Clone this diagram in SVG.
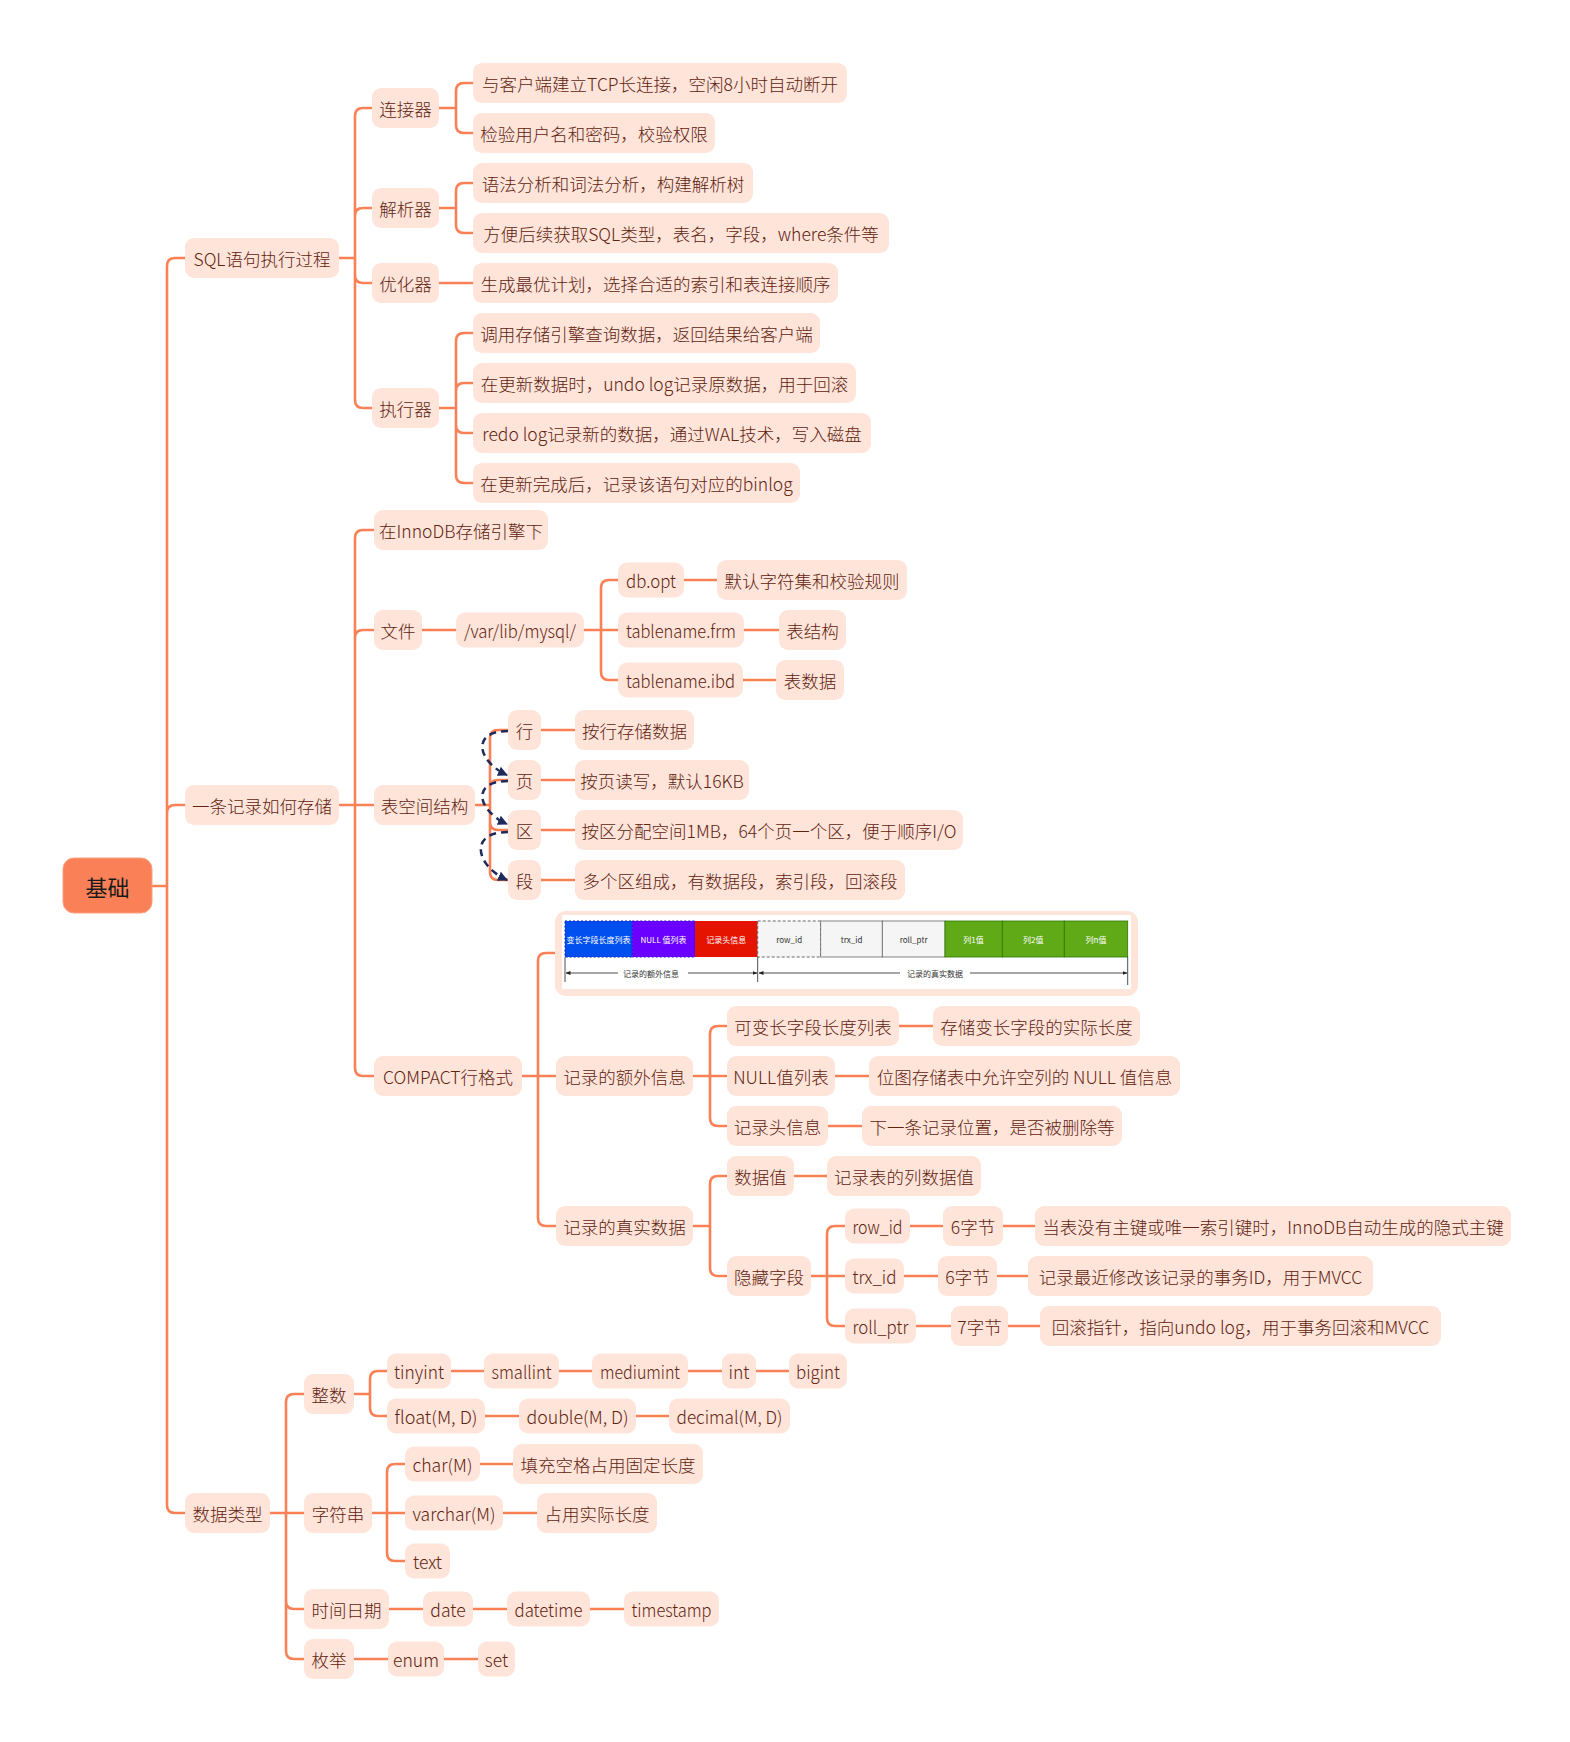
<svg xmlns="http://www.w3.org/2000/svg" width="1570" height="1742" viewBox="0 0 1570 1742">
<style>
.n rect{fill:#FFE4DA;}
.n text{font-family:"Noto Sans CJK SC","Noto Sans",sans-serif;font-size:17.5px;font-weight:300;fill:#60230F;text-anchor:middle;dominant-baseline:central;}
.root rect{fill:#FA8157;stroke:#FBA07F;stroke-width:1;}
.root text{font-family:"Noto Sans CJK SC",sans-serif;font-size:22px;fill:#1a1a1a;text-anchor:middle;dominant-baseline:central;}
.c path{fill:none;stroke:#FA8155;stroke-width:2.6;stroke-linecap:round;stroke-linejoin:round;}
.d path{fill:none;stroke:#1E2A5A;stroke-width:2.5;stroke-dasharray:7 5;}
.img text{font-family:"Noto Sans CJK SC",sans-serif;font-size:8px;text-anchor:middle;dominant-baseline:central;}
.w{fill:#fff;}
.k{fill:#333;}
.ln{stroke:#222;stroke-width:0.8;fill:none;}
</style>
<defs>
<marker id="nav" viewBox="0 0 10 10" refX="9" refY="5" markerWidth="10" markerHeight="10" markerUnits="userSpaceOnUse" orient="auto"><path d="M0,0 L10,5 L0,10 z" fill="#1E2A5A"/></marker>
<marker id="sa" viewBox="0 0 10 10" refX="9" refY="5" markerWidth="5" markerHeight="5" markerUnits="userSpaceOnUse" orient="auto-start-reverse"><path d="M0,1 L10,5 L0,9 z" fill="#222"/></marker>
</defs>
<rect width="1570" height="1742" fill="#fff"/>
<g id="connectors" class="c">
<path d="M152 886 H167 M167 886 V266 Q167 258 175 258 H185 M167 886 V813 Q167 805 175 805 H185 M167 886 V1505 Q167 1513 175 1513 H185"/>
<path d="M339 258 H355 M355 258 V116 Q355 108 363 108 H372 M355 258 V216 Q355 208 363 208 H372 M355 258 V275 Q355 283 363 283 H372 M355 258 V400 Q355 408 363 408 H372"/>
<path d="M439 108 H456 M456 108 V91 Q456 83 464 83 H473 M456 108 V125 Q456 133 464 133 H473"/>
<path d="M439 208 H456 M456 208 V191 Q456 183 464 183 H473 M456 208 V225 Q456 233 464 233 H473"/>
<path d="M439 283 H473"/>
<path d="M439 408 H456 M456 408 V341 Q456 333 464 333 H473 M456 408 V391 Q456 383 464 383 H473 M456 408 V425 Q456 433 464 433 H473 M456 408 V475 Q456 483 464 483 H473"/>
<path d="M339 805 H374 M355 805 V538 Q355 530 363 530 H374 M355 805 V638 Q355 630 363 630 H374 M355 805 V1068 Q355 1076 363 1076 H374"/>
<path d="M422 630 H456"/>
<path d="M584 630 H618 M601 630 V588 Q601 580 609 580 H618 M601 630 V672 Q601 680 609 680 H618"/>
<path d="M684 580 H717 M744 630 H779 M743 680 H776"/>
<path d="M475 805 H490 M490 805 V738 Q490 730 498 730 H508 M490 805 V788 Q490 780 498 780 H508 M490 805 V822 Q490 830 498 830 H508 M490 805 V872 Q490 880 498 880 H508"/>
<path d="M541 730 H575 M541 780 H575 M541 830 H575 M541 880 H575"/>
<path d="M522 1076 H556 M538 1076 V961 Q538 953 546 953 H555 M538 1076 V1218 Q538 1226 546 1226 H556"/>
<path d="M693 1076 H727 M710 1076 V1034 Q710 1026 718 1026 H727 M710 1076 V1118 Q710 1126 718 1126 H727"/>
<path d="M899 1026 H933 M835 1076 H869 M828 1126 H862"/>
<path d="M693 1226 H710 M710 1226 V1184 Q710 1176 718 1176 H727 M710 1226 V1268 Q710 1276 718 1276 H727"/>
<path d="M794 1176 H827"/>
<path d="M811 1276 H845 M827 1276 V1234 Q827 1226 835 1226 H845 M827 1276 V1318 Q827 1326 835 1326 H845"/>
<path d="M910 1226 H943 M1003 1226 H1035 M904 1276 H938 M997 1276 H1028 M916 1326 H951 M1008 1326 H1040"/>
<path d="M270 1513 H304 M286 1513 V1402 Q286 1394 294 1394 H304 M286 1513 V1601 Q286 1609 294 1609 H304 M286 1513 V1651 Q286 1659 294 1659 H304"/>
<path d="M354 1394 H370 M370 1394 V1379 Q370 1371 378 1371 H387 M370 1394 V1408 Q370 1416 378 1416 H387"/>
<path d="M451 1371 H484 M559 1371 H592 M688 1371 H722 M756 1371 H789 M485 1416 H519 M636 1416 H669"/>
<path d="M372 1513 H405 M387 1513 V1472 Q387 1464 395 1464 H405 M387 1513 V1553 Q387 1561 395 1561 H405"/>
<path d="M480 1464 H513 M503 1513 H537"/>
<path d="M389 1609 H423 M473 1609 H507 M590 1609 H624 M354 1659 H388 M444 1659 H478"/>
</g>
<g id="seq-arrows" class="d">
<path d="M508 731 C470 731 478 762 507 775" marker-end="url(#nav)"/>
<path d="M508 781 C470 781 478 811 507 824" marker-end="url(#nav)"/>
<path d="M508 832 C468 832 476 866 507 880" marker-end="url(#nav)"/>
</g>
<g id="root" class="root"><rect x="63" y="858" width="89" height="55" rx="11"/><text x="107.5" y="886">基础</text></g>
<g id="n-sql" class="n"><rect x="185" y="238" width="154" height="40" rx="9"/><text x="262" y="258">SQL语句执行过程</text></g>
<g id="n-record" class="n"><rect x="185" y="785" width="154" height="40" rx="9"/><text x="262" y="805">一条记录如何存储</text></g>
<g id="n-types" class="n"><rect x="185" y="1493" width="85" height="40" rx="9"/><text x="227.5" y="1513">数据类型</text></g>
<g id="n-conn" class="n"><rect x="372" y="88" width="67" height="40" rx="9"/><text x="405.5" y="108">连接器</text></g>
<g id="n-parser" class="n"><rect x="372" y="188" width="67" height="40" rx="9"/><text x="405.5" y="208">解析器</text></g>
<g id="n-opt" class="n"><rect x="372" y="263" width="67" height="40" rx="9"/><text x="405.5" y="283">优化器</text></g>
<g id="n-exec" class="n"><rect x="372" y="388" width="67" height="40" rx="9"/><text x="405.5" y="408">执行器</text></g>
<g id="n-c1" class="n"><rect x="473" y="63" width="374" height="40" rx="9"/><text x="660" y="83">与客户端建立TCP长连接，空闲8小时自动断开</text></g>
<g id="n-c2" class="n"><rect x="473" y="113" width="242" height="40" rx="9"/><text x="594" y="133">检验用户名和密码，校验权限</text></g>
<g id="n-p1" class="n"><rect x="473" y="163" width="280" height="40" rx="9"/><text x="613" y="183">语法分析和词法分析，构建解析树</text></g>
<g id="n-p2" class="n"><rect x="473" y="213" width="416" height="40" rx="9"/><text x="681" y="233">方便后续获取SQL类型，表名，字段，where条件等</text></g>
<g id="n-o1" class="n"><rect x="473" y="263" width="365" height="40" rx="9"/><text x="655.5" y="283">生成最优计划，选择合适的索引和表连接顺序</text></g>
<g id="n-e1" class="n"><rect x="473" y="313" width="347" height="40" rx="9"/><text x="646.5" y="333">调用存储引擎查询数据，返回结果给客户端</text></g>
<g id="n-e2" class="n"><rect x="473" y="363" width="383" height="40" rx="9"/><text x="664.5" y="383">在更新数据时，undo log记录原数据，用于回滚</text></g>
<g id="n-e3" class="n"><rect x="473" y="413" width="398" height="40" rx="9"/><text x="672" y="433">redo log记录新的数据，通过WAL技术，写入磁盘</text></g>
<g id="n-e4" class="n"><rect x="473" y="463" width="327" height="40" rx="9"/><text x="636.5" y="483">在更新完成后，记录该语句对应的binlog</text></g>
<g id="n-innodb" class="n"><rect x="374" y="510" width="174" height="40" rx="9"/><text x="461" y="530">在InnoDB存储引擎下</text></g>
<g id="n-file" class="n"><rect x="374" y="610" width="48" height="40" rx="9"/><text x="398" y="630">文件</text></g>
<g id="n-path" class="n"><rect x="456" y="612.5" width="128" height="35" rx="9"/><text x="520" y="630" textLength="112" lengthAdjust="spacingAndGlyphs">/var/lib/mysql/</text></g>
<g id="n-dbopt" class="n"><rect x="618" y="562.5" width="66" height="35" rx="9"/><text x="651" y="580" textLength="50" lengthAdjust="spacingAndGlyphs">db.opt</text></g>
<g id="n-frm" class="n"><rect x="618" y="612.5" width="126" height="35" rx="9"/><text x="681" y="630" textLength="110" lengthAdjust="spacingAndGlyphs">tablename.frm</text></g>
<g id="n-ibd" class="n"><rect x="618" y="662.5" width="125" height="35" rx="9"/><text x="680.5" y="680" textLength="109" lengthAdjust="spacingAndGlyphs">tablename.ibd</text></g>
<g id="n-dbopt-d" class="n"><rect x="717" y="560" width="190" height="40" rx="9"/><text x="812" y="580">默认字符集和校验规则</text></g>
<g id="n-frm-d" class="n"><rect x="779" y="610" width="67" height="40" rx="9"/><text x="812.5" y="630">表结构</text></g>
<g id="n-ibd-d" class="n"><rect x="776" y="660" width="68" height="40" rx="9"/><text x="810" y="680">表数据</text></g>
<g id="n-ts" class="n"><rect x="374" y="785" width="101" height="40" rx="9"/><text x="424.5" y="805">表空间结构</text></g>
<g id="n-row" class="n"><rect x="508" y="710" width="33" height="40" rx="9"/><text x="524.5" y="730">行</text></g>
<g id="n-page" class="n"><rect x="508" y="760" width="33" height="40" rx="9"/><text x="524.5" y="780">页</text></g>
<g id="n-extent" class="n"><rect x="508" y="810" width="33" height="40" rx="9"/><text x="524.5" y="830">区</text></g>
<g id="n-seg" class="n"><rect x="508" y="860" width="33" height="40" rx="9"/><text x="524.5" y="880">段</text></g>
<g id="n-row-d" class="n"><rect x="575" y="710" width="119" height="40" rx="9"/><text x="634.5" y="730">按行存储数据</text></g>
<g id="n-page-d" class="n"><rect x="575" y="760" width="174" height="40" rx="9"/><text x="662" y="780">按页读写，默认16KB</text></g>
<g id="n-extent-d" class="n"><rect x="575" y="810" width="388" height="40" rx="9"/><text x="769" y="830">按区分配空间1MB，64个页一个区，便于顺序I/O</text></g>
<g id="n-seg-d" class="n"><rect x="575" y="860" width="330" height="40" rx="9"/><text x="740" y="880">多个区组成，有数据段，索引段，回滚段</text></g>
<g id="n-compact" class="n"><rect x="374" y="1056" width="148" height="40" rx="9"/><text x="448" y="1076">COMPACT行格式</text></g>
<g id="n-compact-img" class="img">
<rect x="555" y="911" width="583" height="85" rx="11" fill="#FFE4DA"/>
<rect x="562" y="915" width="569" height="74" fill="#fff"/>
<rect x="565" y="921" width="67.3" height="36" fill="#0050EF" stroke="#001DBC" stroke-width="1" stroke-dasharray="2 2"/>
<rect x="632.3" y="921" width="62.7" height="36" fill="#6A00FF" stroke="#3700CC" stroke-width="1" stroke-dasharray="2 2"/>
<rect x="695" y="921" width="62.7" height="36" fill="#E51400"/>
<rect x="757.7" y="921" width="63" height="36" fill="#F5F5F5" stroke="#666" stroke-width="1" stroke-dasharray="3 2"/>
<rect x="820.7" y="921" width="61.6" height="36" fill="#F5F5F5" stroke="#666" stroke-width="0.8"/>
<rect x="882.3" y="921" width="62.7" height="36" fill="#F5F5F5" stroke="#666" stroke-width="0.8"/>
<rect x="945" y="921" width="57.3" height="36" fill="#60A917" stroke="#2D7600" stroke-width="0.8"/>
<rect x="1002.3" y="921" width="62" height="36" fill="#60A917" stroke="#2D7600" stroke-width="0.8"/>
<rect x="1064.3" y="921" width="63.4" height="36" fill="#60A917" stroke="#2D7600" stroke-width="0.8"/>
<text class="w" x="598.6" y="939">变长字段长度列表</text>
<text class="w" x="663.6" y="939">NULL 值列表</text>
<text class="w" x="726.3" y="939">记录头信息</text>
<text class="k" x="789.2" y="939">row_id</text>
<text class="k" x="851.5" y="939">trx_id</text>
<text class="k" x="913.6" y="939">roll_ptr</text>
<text class="w" x="973.6" y="939">列1值</text>
<text class="w" x="1033.3" y="939">列2值</text>
<text class="w" x="1096" y="939">列n值</text>
<path class="ln" d="M565 957 V982 M757.7 957 V982 M1127.7 957 V985"/>
<path class="ln" d="M618 973 H566" marker-end="url(#sa)"/>
<path class="ln" d="M688 973 H757" marker-end="url(#sa)"/>
<path class="ln" d="M900 973 H759" marker-end="url(#sa)"/>
<path class="ln" d="M970 973 H1127" marker-end="url(#sa)"/>
<text class="k" x="651" y="973">记录的额外信息</text>
<text class="k" x="935" y="973">记录的真实数据</text>
</g>
<g id="n-extra" class="n"><rect x="556" y="1056" width="137" height="40" rx="9"/><text x="624.5" y="1076">记录的额外信息</text></g>
<g id="n-real" class="n"><rect x="556" y="1206" width="137" height="40" rx="9"/><text x="624.5" y="1226">记录的真实数据</text></g>
<g id="n-varlen" class="n"><rect x="727" y="1006" width="172" height="40" rx="9"/><text x="813" y="1026">可变长字段长度列表</text></g>
<g id="n-varlen-d" class="n"><rect x="933" y="1006" width="207" height="40" rx="9"/><text x="1036.5" y="1026">存储变长字段的实际长度</text></g>
<g id="n-null" class="n"><rect x="727" y="1056" width="108" height="40" rx="9"/><text x="781" y="1076">NULL值列表</text></g>
<g id="n-null-d" class="n"><rect x="869" y="1056" width="311" height="40" rx="9"/><text x="1024.5" y="1076">位图存储表中允许空列的 NULL 值信息</text></g>
<g id="n-header" class="n"><rect x="727" y="1106" width="101" height="40" rx="9"/><text x="777.5" y="1126">记录头信息</text></g>
<g id="n-header-d" class="n"><rect x="862" y="1106" width="260" height="40" rx="9"/><text x="992" y="1126">下一条记录位置，是否被删除等</text></g>
<g id="n-data" class="n"><rect x="727" y="1156" width="67" height="40" rx="9"/><text x="760.5" y="1176">数据值</text></g>
<g id="n-data-d" class="n"><rect x="827" y="1156" width="154" height="40" rx="9"/><text x="904" y="1176">记录表的列数据值</text></g>
<g id="n-hidden" class="n"><rect x="727" y="1256" width="84" height="40" rx="9"/><text x="769" y="1276">隐藏字段</text></g>
<g id="n-rowid" class="n"><rect x="845" y="1208.5" width="65" height="35" rx="9"/><text x="877.5" y="1226" textLength="50" lengthAdjust="spacingAndGlyphs">row_id</text></g>
<g id="n-rowid-b" class="n"><rect x="943" y="1206" width="60" height="40" rx="9"/><text x="973" y="1226">6字节</text></g>
<g id="n-rowid-d" class="n"><rect x="1035" y="1206" width="476" height="40" rx="9"/><text x="1273" y="1226">当表没有主键或唯一索引键时，InnoDB自动生成的隐式主键</text></g>
<g id="n-trxid" class="n"><rect x="845" y="1258.5" width="59" height="35" rx="9"/><text x="874.5" y="1276" textLength="44" lengthAdjust="spacingAndGlyphs">trx_id</text></g>
<g id="n-trxid-b" class="n"><rect x="938" y="1256" width="59" height="40" rx="9"/><text x="967.5" y="1276">6字节</text></g>
<g id="n-trxid-d" class="n"><rect x="1028" y="1256" width="345" height="40" rx="9"/><text x="1200.5" y="1276">记录最近修改该记录的事务ID，用于MVCC</text></g>
<g id="n-rollptr" class="n"><rect x="845" y="1308.5" width="71" height="35" rx="9"/><text x="880.5" y="1326" textLength="56" lengthAdjust="spacingAndGlyphs">roll_ptr</text></g>
<g id="n-rollptr-b" class="n"><rect x="951" y="1306" width="57" height="40" rx="9"/><text x="979.5" y="1326">7字节</text></g>
<g id="n-rollptr-d" class="n"><rect x="1040" y="1306" width="401" height="40" rx="9"/><text x="1240.5" y="1326">回滚指针，指向undo log，用于事务回滚和MVCC</text></g>
<g id="n-int" class="n"><rect x="304" y="1374" width="50" height="40" rx="9"/><text x="329" y="1394">整数</text></g>
<g id="n-tinyint" class="n"><rect x="387" y="1353.5" width="64" height="35" rx="9"/><text x="419" y="1371" textLength="50" lengthAdjust="spacingAndGlyphs">tinyint</text></g>
<g id="n-smallint" class="n"><rect x="484" y="1353.5" width="75" height="35" rx="9"/><text x="521.5" y="1371" textLength="60" lengthAdjust="spacingAndGlyphs">smallint</text></g>
<g id="n-mediumint" class="n"><rect x="592" y="1353.5" width="96" height="35" rx="9"/><text x="640" y="1371" textLength="80" lengthAdjust="spacingAndGlyphs">mediumint</text></g>
<g id="n-intt" class="n"><rect x="722" y="1353.5" width="34" height="35" rx="9"/><text x="739" y="1371">int</text></g>
<g id="n-bigint" class="n"><rect x="789" y="1353.5" width="58" height="35" rx="9"/><text x="818" y="1371" textLength="44" lengthAdjust="spacingAndGlyphs">bigint</text></g>
<g id="n-float" class="n"><rect x="387" y="1398.5" width="98" height="35" rx="9"/><text x="436" y="1416" textLength="83" lengthAdjust="spacingAndGlyphs">float(M, D)</text></g>
<g id="n-double" class="n"><rect x="519" y="1398.5" width="117" height="35" rx="9"/><text x="577.5" y="1416" textLength="102" lengthAdjust="spacingAndGlyphs">double(M, D)</text></g>
<g id="n-decimal" class="n"><rect x="669" y="1398.5" width="121" height="35" rx="9"/><text x="729.5" y="1416" textLength="106" lengthAdjust="spacingAndGlyphs">decimal(M, D)</text></g>
<g id="n-str" class="n"><rect x="304" y="1493" width="68" height="40" rx="9"/><text x="338" y="1513">字符串</text></g>
<g id="n-char" class="n"><rect x="405" y="1446.5" width="75" height="35" rx="9"/><text x="442.5" y="1464" textLength="60" lengthAdjust="spacingAndGlyphs">char(M)</text></g>
<g id="n-char-d" class="n"><rect x="513" y="1444" width="190" height="40" rx="9"/><text x="608" y="1464">填充空格占用固定长度</text></g>
<g id="n-varchar" class="n"><rect x="405" y="1495.5" width="98" height="35" rx="9"/><text x="454" y="1513" textLength="83" lengthAdjust="spacingAndGlyphs">varchar(M)</text></g>
<g id="n-varchar-d" class="n"><rect x="537" y="1493" width="120" height="40" rx="9"/><text x="597" y="1513">占用实际长度</text></g>
<g id="n-text" class="n"><rect x="405" y="1543.5" width="45" height="35" rx="9"/><text x="427.5" y="1561">text</text></g>
<g id="n-time" class="n"><rect x="304" y="1589" width="85" height="40" rx="9"/><text x="346.5" y="1609">时间日期</text></g>
<g id="n-date" class="n"><rect x="423" y="1591.5" width="50" height="35" rx="9"/><text x="448" y="1609">date</text></g>
<g id="n-datetime" class="n"><rect x="507" y="1591.5" width="83" height="35" rx="9"/><text x="548.5" y="1609" textLength="68" lengthAdjust="spacingAndGlyphs">datetime</text></g>
<g id="n-timestamp" class="n"><rect x="624" y="1591.5" width="95" height="35" rx="9"/><text x="671.5" y="1609" textLength="80" lengthAdjust="spacingAndGlyphs">timestamp</text></g>
<g id="n-enum-g" class="n"><rect x="304" y="1639" width="50" height="40" rx="9"/><text x="329" y="1659">枚举</text></g>
<g id="n-enum" class="n"><rect x="388" y="1641.5" width="56" height="35" rx="9"/><text x="416" y="1659">enum</text></g>
<g id="n-set" class="n"><rect x="478" y="1641.5" width="37" height="35" rx="9"/><text x="496.5" y="1659">set</text></g>
</svg>
